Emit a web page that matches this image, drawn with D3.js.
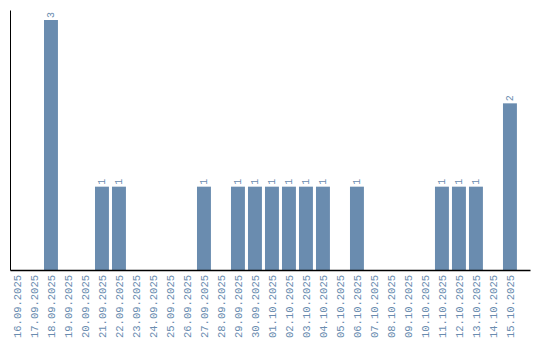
<!DOCTYPE html>
<html>
<head>
<meta charset="utf-8">
<script src="https://cdn.jsdelivr.net/npm/d3@7"></script>
<style>
  body { margin: 0; background: #fff; }
  svg { display: block; }
</style>
</head>
<body>
<svg id="chart" width="540" height="340"></svg>
<script>
  const days = ['16.09.2025', '17.09.2025', '18.09.2025', '19.09.2025', '20.09.2025', '21.09.2025',
    '22.09.2025', '23.09.2025', '24.09.2025', '25.09.2025', '26.09.2025', '27.09.2025',
    '28.09.2025', '29.09.2025', '30.09.2025', '01.10.2025', '02.10.2025', '03.10.2025',
    '04.10.2025', '05.10.2025', '06.10.2025', '07.10.2025', '08.10.2025', '09.10.2025',
    '10.10.2025', '11.10.2025', '12.10.2025', '13.10.2025', '14.10.2025', '15.10.2025'];
  const counts = [0, 0, 3, 0, 0, 1, 1, 0, 0, 0, 0, 1, 0, 1, 1, 1, 1, 1, 1, 0, 1, 0, 0, 0, 0, 1, 1, 1, 0, 2];

  const barColor = '#6a8caf';
  const font = 'Liberation Mono';
  const svg = d3.select('#chart');
  const dataset = days.map((d, i) => ({ name: d, value: counts[i] }));

  const xScale = d3.scaleBand()
    .domain(days)
    .range([10, 530])
    .paddingInner(0.18)
    .paddingOuter(0.385)
    .align(0);

  const yScale = d3.scaleLinear()
    .domain([0, d3.max(counts)])
    .range([270, 20]);

  // bars
  svg.append('g')
    .selectAll('rect')
    .data(dataset.filter(d => d.value > 0))
    .enter()
    .append('rect')
    .attr('x', d => xScale(d.name))
    .attr('y', d => yScale(d.value))
    .attr('width', xScale.bandwidth())
    .attr('height', d => yScale(0) - yScale(d.value))
    .attr('fill', barColor);

  // value labels
  svg.append('g')
    .selectAll('text')
    .data(dataset.filter(d => d.value > 0))
    .enter()
    .append('text')
    .attr('transform', d => `translate(${xScale(d.name) + xScale.bandwidth() / 2 + 3},${yScale(d.value) - 2}) rotate(-90)`)
    .attr('font-family', font)
    .attr('font-size', '10px')
    .attr('fill', barColor)
    .text(d => d.value);

  // x axis
  const xAxis = svg.append('g')
    .attr('transform', 'translate(0,270)')
    .call(d3.axisBottom(xScale).tickSize(0).tickSizeOuter(0));
  xAxis.select('.domain').attr('stroke', '#000').attr('stroke-width', 1.5);
  xAxis.selectAll('text')
    .attr('font-family', font)
    .attr('font-size', '10.5px')
    .attr('fill', barColor)
    .attr('text-anchor', 'end')
    .attr('dy', '0.35em')
    .attr('transform', 'translate(0,5) rotate(-90)')
    .attr('x', 0)
    .attr('y', 0);

  // y axis (line only)
  const yAxis = svg.append('g')
    .attr('transform', 'translate(10,0)')
    .call(d3.axisLeft(d3.scaleLinear().range([270, 10])).ticks(0).tickSize(0));
  yAxis.select('.domain').attr('stroke', '#000').attr('stroke-width', 1);
  yAxis.selectAll('text').remove();
</script>
</body>
</html>
